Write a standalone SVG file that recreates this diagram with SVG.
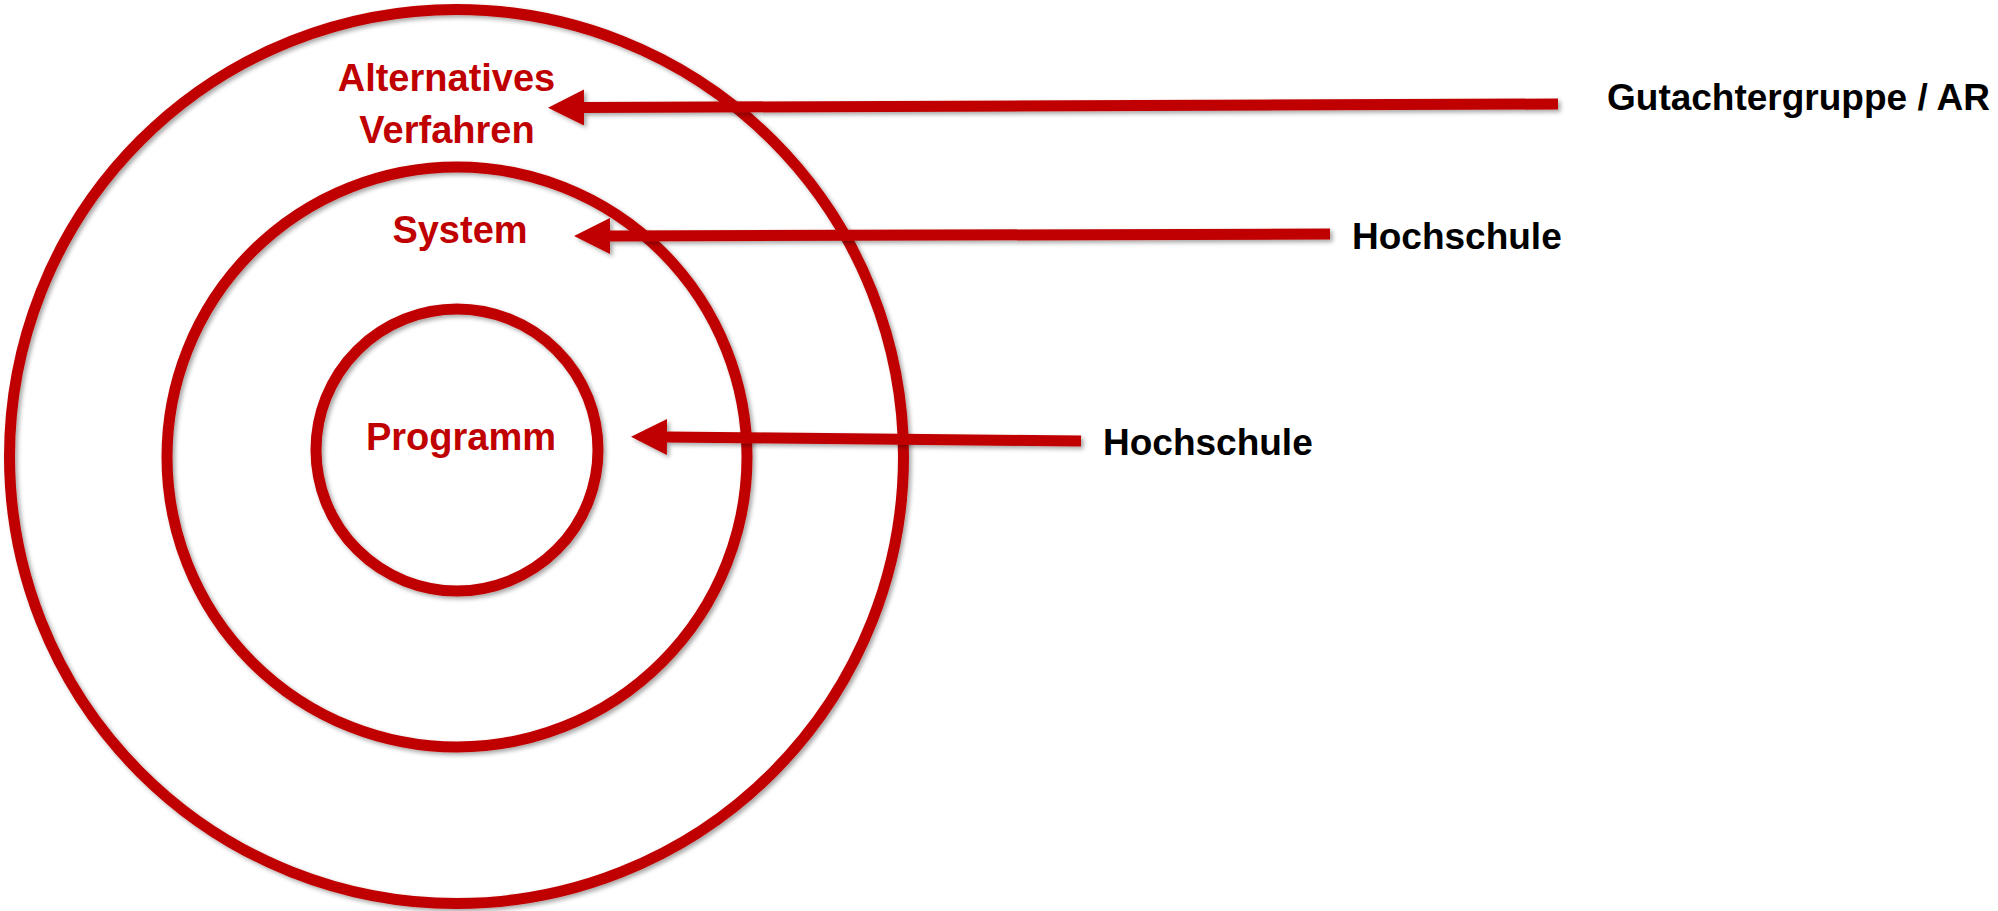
<svg xmlns="http://www.w3.org/2000/svg" width="1998" height="911" viewBox="0 0 1998 911">
  <style>
    .ring { fill: none; stroke: #C00000; stroke-width: 11; filter: url(#shadow); }
    .arrow { fill: none; stroke: #C00000; stroke-width: 11; marker-end: url(#head); filter: url(#shadow); }
    .lbl { font-family: "Liberation Sans", Arial, sans-serif; font-weight: bold; font-size: 38px; fill: #C00000; text-anchor: middle; }
    .ext { font-family: "Liberation Sans", Arial, sans-serif; font-weight: bold; font-size: 37px; fill: #000000; }
  </style>
  <defs>
    <filter id="shadow" filterUnits="userSpaceOnUse" x="0" y="0" width="1998" height="911">
      <feDropShadow dx="2.5" dy="2.5" stdDeviation="2" flood-color="#000000" flood-opacity="0.35"/>
    </filter>
    <marker id="head" markerUnits="userSpaceOnUse" markerWidth="36" markerHeight="36" viewBox="0 0 36 36" refX="1" refY="18" orient="auto">
      <path d="M0,0 L36,18 L0,36 z" fill="#C00000"/>
    </marker>
  </defs>
  <rect width="1998" height="911" fill="#ffffff"/>

  <g id="ring-alternatives">
    <circle class="ring" cx="456.5" cy="456.5" r="447"/>
  </g>
  <g id="ring-system">
    <circle class="ring" cx="457" cy="457" r="290"/>
  </g>
  <g id="ring-programm">
    <circle class="ring" cx="457" cy="450" r="141"/>
  </g>

  <g id="connectors">
    <path class="arrow" d="M1558,104 L583,107.5"/>
    <path class="arrow" d="M1330,234 L609,236"/>
    <path class="arrow" d="M1081,441 L666,437"/>
  </g>

  <g id="label-alternatives">
    <text class="lbl" x="446.5" y="91">Alternatives</text>
    <text class="lbl" x="447" y="143">Verfahren</text>
  </g>
  <g id="label-system">
    <text class="lbl" x="460" y="243">System</text>
  </g>
  <g id="label-programm">
    <text class="lbl" x="461" y="450">Programm</text>
  </g>

  <g id="node-gutachtergruppe">
    <text class="ext" x="1607" y="110">Gutachtergruppe / AR</text>
  </g>
  <g id="node-hochschule-system">
    <text class="ext" x="1352" y="249">Hochschule</text>
  </g>
  <g id="node-hochschule-programm">
    <text class="ext" x="1103" y="455">Hochschule</text>
  </g>
</svg>
